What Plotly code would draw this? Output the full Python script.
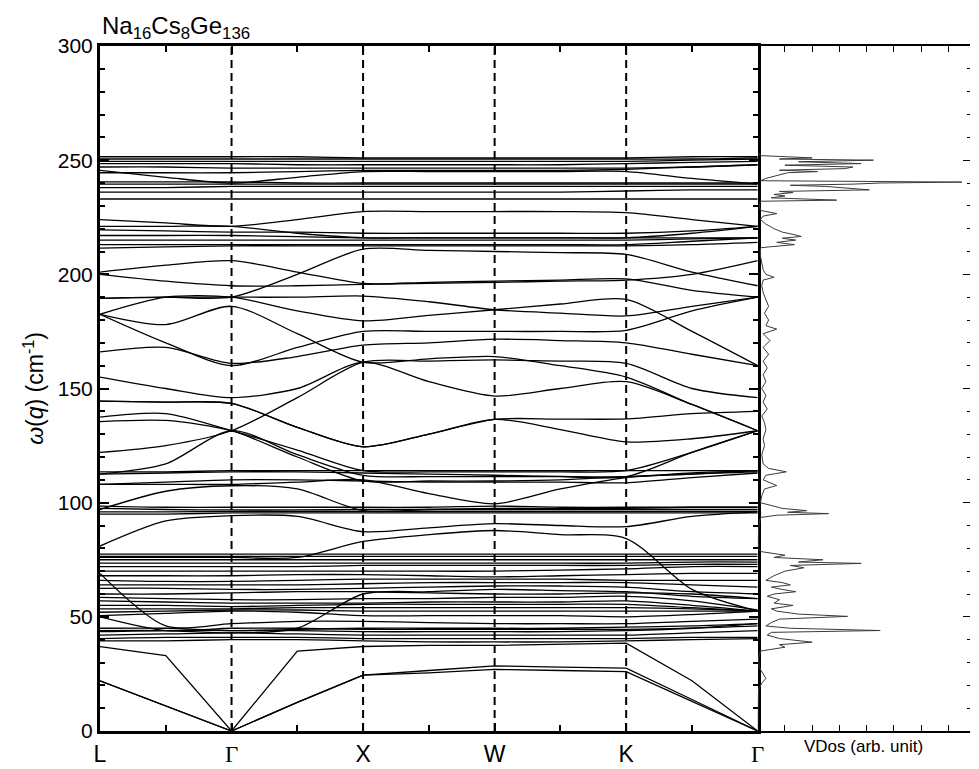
import plotly.graph_objects as go

# k-path sample positions (L, mid, Γ, mid, X, mid, W, mid, K, mid, Γ)
k_path = [0, 0.5, 1, 1.5, 2, 2.5, 3, 3.5, 4, 4.5, 5]
k_labels = ["L", "Γ", "X", "W", "K", "Γ"]
k_label_pos = [0, 1, 2, 3, 4, 5]

# acoustic branches (cm^-1)
acoustic_bands = [
    [22, 11, 0, 12.5, 24.5, 26.5, 28.5, 28, 27.5, 13.8, 0],
    [22, 11, 0, 12.5, 24.5, 25.5, 27, 26.5, 26, 13, 0],
    [37, 33, 0, 35, 37, 37.5, 37.5, 38, 38.5, 22, 0],
]

# low optical branches 39-78
low_bands = [
    [39.5, 39.5, 40, 40, 39.5, 39, 39, 39, 39.5, 40, 40.5],
    [40.5, 41, 41, 41, 40.5, 40.5, 40.5, 40.5, 40.5, 41, 41],
    [42, 42.5, 43, 42.5, 42, 42, 42, 42, 42, 43, 44],
    [43.5, 44, 44, 44, 43.5, 43.5, 43.5, 43.5, 44, 45, 47],
    [45, 45, 44, 44.5, 45, 45, 45, 45, 45.5, 46, 47],
    [50, 44, 45, 45, 44.5, 44.5, 44.5, 44.5, 44.5, 45, 46],
    [69, 46, 47, 48, 48, 47.5, 47, 47, 47, 48, 49],
    [50.5, 51.5, 52.5, 52, 50.5, 50.5, 50.5, 50.5, 50, 51, 52.5],
    [52, 52.5, 53, 53, 52.5, 52.5, 52.5, 52.5, 52.5, 52.5, 52.5],
    [53.5, 53.5, 53.5, 54, 54, 54, 54, 54, 54, 53.5, 52.5],
    [55, 55, 54.5, 55, 55.5, 55.5, 55.5, 55.5, 55.5, 54, 52.5],
    [57, 56.5, 56, 56, 56, 56.5, 56.5, 56.5, 57, 55, 52.5],
    [58.5, 58, 57.5, 57.5, 58, 58, 58.5, 58.5, 59, 57, 53],
    [60, 60, 60.5, 61, 61, 60.5, 60, 60, 60.5, 60, 58],
    [44, 44, 43, 45, 60, 61, 62, 61.5, 61, 59, 58],
    [62.5, 62.5, 62, 62, 62.5, 63, 63.5, 63.5, 63, 61, 60],
    [64, 64, 64, 64, 64.5, 65, 65, 65, 65, 64, 63],
    [66, 65.5, 65.5, 66, 66.5, 66.5, 66.5, 66.5, 66, 66, 66],
    [68, 68, 68, 68.5, 68.5, 68, 67.5, 68, 68.5, 69, 69],
    [70, 70, 70, 70, 70, 70, 70, 70.5, 71, 72, 72],
    [72, 72, 72, 72, 72.5, 72.5, 72.5, 72.5, 72.5, 73, 73],
    [73.5, 73.5, 73.5, 73.5, 73.5, 73.5, 73.5, 73.5, 73.5, 74, 74],
    [75, 75, 75, 75, 75, 75, 75, 75, 75, 75, 75],
    [76.5, 76.5, 76.5, 76.5, 76.5, 76.5, 76.5, 76.5, 76.5, 76.5, 76.5],
    [77.5, 77.5, 77.5, 77.5, 77.5, 77.5, 77.5, 77.5, 77.5, 77.5, 77.5],
]

# middle branches 76-145
mid_bands = [
    [81, 92, 94.3, 94, 87.3, 89, 90.8, 90, 89.5, 94, 96],
    [76, 76, 76, 76, 83, 86, 87.8, 86, 84.3, 62, 52.5],
    [97, 105, 107.4, 106, 96.5, 97, 97.5, 97.5, 97.5, 98, 98],
    [108, 108, 108, 109, 110, 104, 99.5, 106, 111, 112.5, 113.5],
    [95, 95, 95.5, 95.5, 95.5, 95.5, 95.5, 95.5, 95.5, 95.5, 95.5],
    [96, 96, 96.2, 96.2, 96.2, 96.2, 96.2, 96.2, 96.2, 96.2, 96.2],
    [97.5, 97, 96.8, 96.8, 97, 97, 97, 97, 97, 97, 97],
    [98.5, 98, 98, 98, 98, 98, 98.5, 98, 98, 98, 98],
    [113.5, 113.5, 114, 114, 114, 114, 114, 114, 114, 114, 114],
    [112.5, 113, 113.5, 113.5, 113, 112.5, 112, 111.5, 111.4, 113, 114],
    [108, 109, 110, 110, 109.5, 109, 109, 109, 108.7, 111, 113],
    [137.5, 139, 131.5, 123, 114, 113.5, 113.5, 113.5, 114, 122, 131.5],
    [135.5, 136, 131.5, 120, 109.5, 109.5, 109.5, 110, 111.4, 112.5, 114],
    [122, 125, 131.5, 146, 161.5, 162, 162.5, 162, 161, 150, 146],
    [112.5, 117, 131.5, 121, 112, 111.4, 111.4, 111.4, 111.4, 122, 131.5],
    [144.5, 144, 143.5, 133, 124.5, 130, 136.5, 132, 126.6, 128, 131.5],
    [144.5, 144, 143.5, 133, 124.5, 130, 136.5, 136.6, 136.7, 139, 140],
    [155, 150, 146, 150, 161.5, 153, 146.7, 150, 153, 143, 131.5],
]

# upper branches 155-228
upper_bands = [
    [201, 204, 206, 201, 196, 196.5, 197, 197.5, 198, 193, 190],
    [200, 197, 195, 195, 195.6, 196, 196.5, 197, 197.5, 200, 206],
    [189.5, 190, 190, 200, 211, 210.5, 210, 209.5, 208.7, 201, 195],
    [182.5, 190, 190, 184, 179.6, 182, 184.5, 187, 189, 175, 160],
    [189.5, 190, 190, 190, 190.5, 188, 184.5, 183, 181.8, 186, 190],
    [182.5, 178, 186, 174, 161.5, 163, 164, 160, 155, 143, 131.5],
    [182.5, 170, 160, 168, 175, 175, 175, 175, 175.5, 184, 190],
    [166, 168, 161, 164, 169, 170, 171.6, 171, 170, 165, 160],
    [224, 222.5, 221, 224, 227.5, 227.5, 227.5, 227.5, 227, 224, 221],
    [221, 221, 221, 218, 216, 216, 216, 216, 216, 218, 221],
    [219.5, 219, 218.5, 218.5, 218, 218, 218, 218, 218, 219, 221],
    [217, 217, 217, 216.5, 216, 216, 216, 216, 216, 216, 216],
    [215, 215, 215, 215, 215, 215, 215, 215, 215, 215.5, 216],
    [213, 213, 213, 213, 213, 213, 213, 213, 213, 214.5, 216],
    [211.5, 212, 212.5, 212.5, 212.5, 212.5, 212.5, 212.5, 212.5, 213, 214],
]

# top branches 233-252
top_bands = [
    [233, 233, 233, 233, 233, 233, 233, 233, 233, 233, 233],
    [236, 236, 236, 236, 236, 236, 236, 236, 236.5, 237, 237],
    [238, 238, 238.5, 238.5, 238.5, 238.5, 238.5, 238.5, 238.5, 238.5, 238.5],
    [239.5, 239.5, 239.5, 239.5, 239.5, 239.5, 239.5, 239.5, 239.5, 239.5, 239.5],
    [240.5, 240.5, 240.5, 240, 240, 240, 240, 240, 240, 240, 240],
    [245.5, 242.5, 240, 242.5, 245, 245, 245, 245, 245, 242, 239.5],
    [244.5, 244.5, 244.5, 245, 245.5, 245.5, 245.5, 245.5, 246, 247, 248],
    [247, 247, 246.5, 246.5, 246.5, 246.5, 246.5, 246.5, 246.5, 247, 248],
    [248.5, 248.5, 248.5, 248, 248, 248, 248, 248, 248.5, 249, 249.5],
    [249.5, 249.5, 249.5, 249.5, 249.5, 249.5, 249.5, 249.5, 249.5, 250, 250.5],
    [250.5, 250.5, 250.5, 250.5, 250.5, 250.5, 250.5, 250.5, 250.5, 250.5, 251],
    [251.5, 251.5, 251.5, 251.5, 251, 251, 251, 251, 251, 251.5, 251.5],
]

# vibrational density of states
vdos_freq = [253, 252, 251, 250.5, 250, 249.3, 248.5, 247.8, 247, 246.3, 245.6, 245, 244.5,
             243, 242, 241, 240.4, 240, 239.5, 239, 238.5, 237, 236.3, 235.8, 235, 234.3,
             233.5, 232.5, 232, 230, 228, 226.6, 225.5, 224, 222, 220, 218.5, 217.5, 216.6,
             215.8, 215, 214, 213, 212, 211.6, 208, 205, 202, 200, 198.7, 197.5, 195, 192,
             189, 186, 183, 180, 177.5, 176, 174, 171, 168, 165, 162, 159, 156, 153, 150,
             147, 144, 141, 138, 135, 132, 128, 125, 121, 117, 115, 113.5, 112, 110, 107.5,
             106, 103, 100, 97.5, 96.5, 95.8, 95.2, 94.5, 93.5, 90, 85, 80, 78.6, 77, 76, 75,
             74, 73.4, 72.5, 71.5, 70, 68, 66, 65, 64, 63, 62, 61, 60, 59, 57.5, 56, 55,
             53.5, 52.5, 51.2, 50.2, 49, 47.5, 46, 45, 44, 43.2, 42, 40.5, 39.5, 38.9, 37.8,
             36.7, 35, 32, 28, 25, 23, 21, 18, 10, 0]
vdos_val = [0, 0.1, 2.0, 0.8, 4.25, 1.5, 3.8, 1.0, 3.5, 3.2, 0.8, 2.2, 1.1,
            0.6, 0.3, 0.1, 7.5, 4.5, 3.5, 1.2, 2.5, 4.1, 0.8, 1.3, 0.6, 1.0,
            0.5, 2.9, 0.1, 0.05, 0.1, 0.7, 0.2, 0.1, 0.3, 0.6, 0.9, 1.3, 1.6,
            0.9, 1.4, 0.7, 1.35, 0.4, 0.1, 0.1, 0.15, 0.2, 0.3, 0.6, 0.2, 0.15, 0.2,
            0.3, 0.4, 0.25, 0.4, 0.3, 0.7, 0.2, 0.45, 0.2, 0.4, 0.2, 0.35, 0.2, 0.3, 0.15,
            0.3, 0.2, 0.35, 0.15, 0.25, 0.3, 0.2, 0.25, 0.15, 0.2, 0.4, 1.05, 0.3, 0.2, 0.7,
            0.25, 0.15, 0.1, 0.9, 1.8, 1.1, 2.6, 0.7, 0.1, 0.05, 0.02, 0.02, 0.1, 1.0, 0.6, 2.4,
            1.5, 3.8, 1.2, 1.7, 1.0, 0.6, 0.3, 0.9, 1.2, 0.5, 0.9, 1.4, 0.6, 0.35, 0.8, 0.6, 1.3,
            0.5, 0.7, 1.5, 3.3, 0.8, 0.5, 0.3, 1.2, 4.5, 0.5, 0.35, 0.8, 1.5, 2.0, 0.8,
            1.0, 0.1, 0.03, 0.05, 0.2, 0.3, 0.15, 0.03, 0.01, 0]

fig = go.Figure()

for band in acoustic_bands:
    fig.add_trace(go.Scatter(x=k_path, y=band, mode="lines",
                             line=dict(color="black", width=1.3),
                             showlegend=False, hoverinfo="skip"))
for group in (low_bands, mid_bands, upper_bands, top_bands):
    for band in group:
        fig.add_trace(go.Scatter(x=k_path, y=band, mode="lines",
                                 line=dict(color="black", width=1.3, shape="spline", smoothing=0.8),
                                 showlegend=False, hoverinfo="skip"))

fig.add_trace(go.Scatter(x=vdos_val, y=vdos_freq, mode="lines",
                         line=dict(color="#3a3a3a", width=1),
                         xaxis="x2", yaxis="y2", showlegend=False, hoverinfo="skip"))

# dashed high-symmetry lines
for xv in k_label_pos[1:-1]:
    fig.add_shape(type="line", xref="x", yref="y", x0=xv, x1=xv, y0=0, y1=300,
                  line=dict(color="black", width=2, dash="8px,5px"), layer="above")

serif = "'Liberation Serif', 'DejaVu Serif', serif"
ticktext = [f"<span style=\"font-family:{serif}\">{t}</span>" if t == "Γ" else t for t in k_labels]

split = 663 / 877
fig.update_layout(
    width=979, height=769,
    margin=dict(l=100, r=2, t=46, b=36),
    plot_bgcolor="white", paper_bgcolor="white",
    font=dict(family="Liberation Sans, Arial, sans-serif", color="black", size=20),
    xaxis=dict(domain=[0, split], range=[0, 5], tickvals=k_label_pos, ticktext=ticktext,
               ticks="inside", ticklen=8, tickwidth=2, tickcolor="black",
               minor=dict(ticks="inside", ticklen=6, tickwidth=2, tick0=0.5, dtick=1, tickcolor="black"),
               showline=True, linewidth=3, linecolor="black", mirror="ticks",
               showgrid=False, zeroline=False, tickfont=dict(size=23)),
    yaxis=dict(range=[0, 300], dtick=50, ticks="inside", ticklen=9, tickwidth=2, tickcolor="black",
               minor=dict(ticks="inside", ticklen=5, tickwidth=2, dtick=10, tickcolor="black"),
               showline=True, linewidth=3, linecolor="black", mirror="ticks",
               showgrid=False, zeroline=False, tickfont=dict(size=21),
               title=dict(text="<i>ω</i>(<i>q</i>) (cm<sup>-1</sup>)", font=dict(size=23), standoff=8)),
    xaxis2=dict(domain=[split, 1], range=[0, 7.8], dtick=1, anchor="y2",
                ticks="inside", ticklen=6, tickwidth=1, tickcolor="black",
                showticklabels=False, showline=True, linewidth=1.5, linecolor="black",
                mirror="ticks", showgrid=False, zeroline=False),
    yaxis2=dict(range=[0, 300], anchor="x2", side="right", dtick=50,
                ticks="inside", ticklen=7, tickwidth=1, tickcolor="black",
                minor=dict(ticks="inside", ticklen=3, tickwidth=1, dtick=10, tickcolor="black"),
                showticklabels=False, showline=False, showgrid=False, zeroline=False),
    annotations=[
        dict(text="Na<sub>16</sub>Cs<sub>8</sub>Ge<sub>136</sub>", xref="paper", yref="paper",
             x=0, y=1, xanchor="left", yanchor="bottom", yshift=1, showarrow=False,
             font=dict(size=24)),
        dict(text="VDos (arb. unit)", xref="paper", yref="paper",
             x=(split + 1) / 2, y=0, xanchor="center", yanchor="top", yshift=-4, showarrow=False,
             font=dict(size=17)),
    ],
)

fig.write_html("out.html")
